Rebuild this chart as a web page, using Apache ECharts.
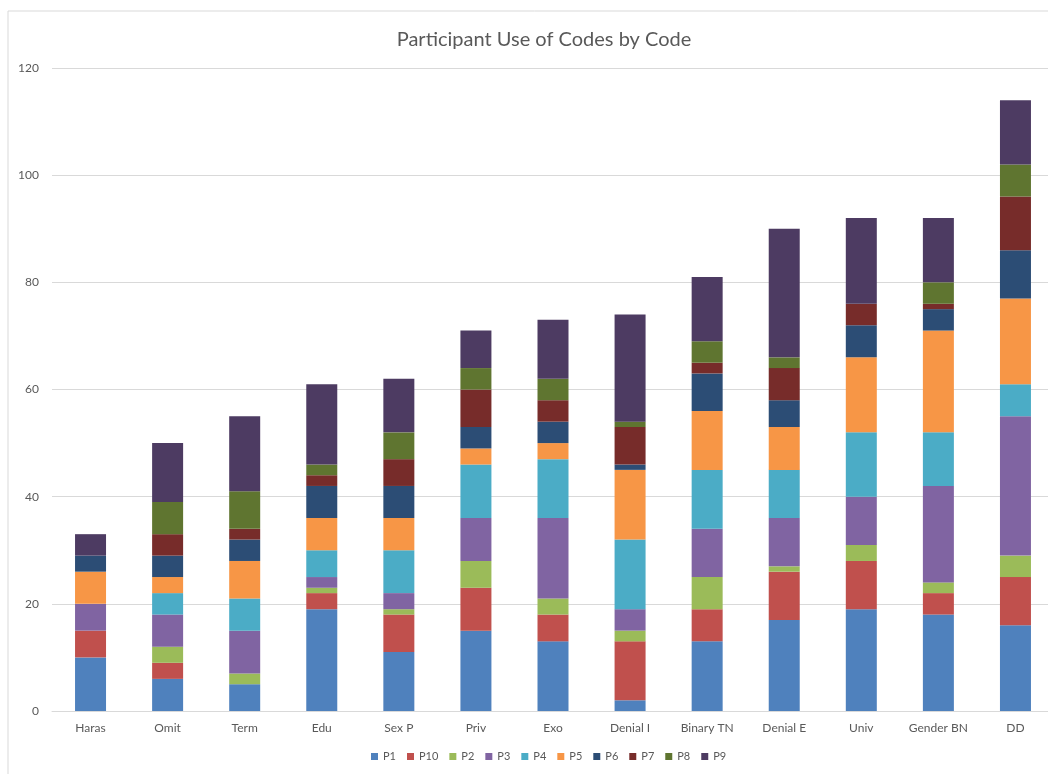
<!DOCTYPE html>
<html>
<head>
<meta charset="utf-8">
<script src="https://cdn.jsdelivr.net/npm/echarts@6/dist/echarts.min.js"></script>
<style>
  html, body { margin: 0; padding: 0; background: #fff; overflow: hidden; }
  #chart { width: 1060px; height: 774px; }
</style>
</head>
<body>
<div id="chart"></div>
<script>
// categories on the x axis
var codes = ['Haras', 'Omit', 'Term', 'Edu', 'Sex P', 'Priv', 'Exo', 'Denial I', 'Binary TN', 'Denial E', 'Univ', 'Gender BN', 'DD']

// one array per participant, stacked in this order
var P1  = [10, 6, 5, 19, 11, 15, 13, 2, 13, 17, 19, 18, 16]
var P10 = [5, 3, 0, 3, 7, 8, 5, 11, 6, 9, 9, 4, 9]
var P2  = [0, 3, 2, 1, 1, 5, 3, 2, 6, 1, 3, 2, 4]
var P3  = [5, 6, 8, 2, 3, 8, 15, 4, 9, 9, 9, 18, 26]
var P4  = [0, 4, 6, 5, 8, 10, 11, 13, 11, 9, 12, 10, 6]
var P5  = [6, 3, 7, 6, 6, 3, 3, 13, 11, 8, 14, 19, 16]
var P6  = [3, 4, 4, 6, 6, 4, 4, 1, 7, 5, 6, 4, 9]
var P7  = [0, 4, 2, 2, 5, 7, 4, 7, 2, 6, 4, 1, 10]
var P8  = [0, 6, 7, 2, 5, 4, 4, 1, 4, 2, 0, 4, 6]
var P9  = [4, 11, 14, 15, 10, 7, 11, 20, 12, 24, 16, 12, 12]

var yTicks = [0, 20, 40, 60, 80, 100, 120]

var seriesNames = ['P1', 'P10', 'P2', 'P3', 'P4', 'P5', 'P6', 'P7', 'P8', 'P9']
var seriesData = [P1, P10, P2, P3, P4, P5, P6, P7, P8, P9]
var colors = ['#4f81bd', '#c0504d', '#9bbb59', '#8064a2', '#4bacc6', '#f79646', '#2c4d75', '#772c2a', '#5f7530', '#4d3b62']

var font = 'Lato, "Open Sans", sans-serif'

var chart = echarts.init(document.getElementById('chart'))

var series = []
for (var i = 0; i < seriesNames.length; i++) {
  series.push({
    name: seriesNames[i],
    type: 'bar',
    stack: 'total',
    barWidth: 31,
    data: seriesData[i]
  })
}

var option = {
  animation: false,
  color: colors,
  textStyle: { fontFamily: font },
  graphic: [
    {
      type: 'rect',
      shape: { x: 8, y: 11, width: 1100, height: 900 },
      style: { fill: 'none', stroke: '#d9d9d9', lineWidth: 1 },
      silent: true
    }
  ],
  title: {
    text: 'Participant Use of Codes by Code',
    left: 539,
    textAlign: 'center',
    top: 25,
    textStyle: { color: '#595959', fontSize: 20, fontWeight: 'normal', fontFamily: font }
  },
  legend: {
    data: seriesNames,
    left: 366,
    bottom: 7,
    itemWidth: 7,
    itemHeight: 7,
    itemGap: 11,
    icon: 'rect',
    textStyle: { color: '#595959', fontSize: 11, fontFamily: font }
  },
  grid: {
    left: 52,
    top: 68,
    width: 1002,
    height: 643
  },
  xAxis: {
    type: 'category',
    data: codes,
    axisTick: { show: false },
    axisLine: { lineStyle: { color: '#d9d9d9' } },
    axisLabel: { color: '#595959', fontSize: 12, margin: 11, interval: 0, fontFamily: font }
  },
  yAxis: {
    type: 'value',
    min: yTicks[0],
    max: yTicks[yTicks.length - 1],
    interval: 20,
    axisLine: { show: false },
    axisTick: { show: false },
    axisLabel: { color: '#595959', fontSize: 12, margin: 13, fontFamily: font },
    splitLine: { lineStyle: { color: '#d9d9d9' } }
  },
  series: series
}

chart.setOption(option)
</script>
</body>
</html>
